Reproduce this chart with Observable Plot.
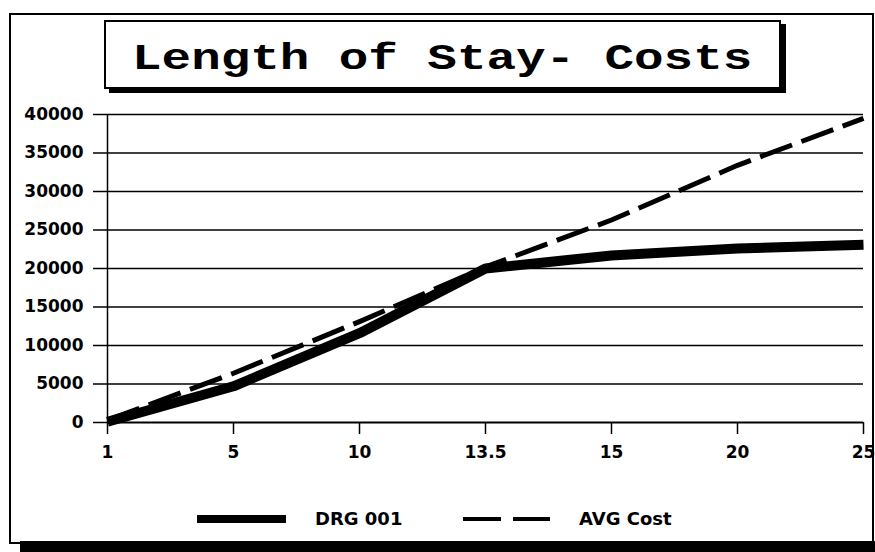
<!DOCTYPE html>
<html>
<head>
<meta charset="utf-8">
<script src="https://cdn.jsdelivr.net/npm/d3@7"></script>
<script src="https://cdn.jsdelivr.net/npm/@observablehq/plot@0.6"></script>
<style>
  html, body { margin: 0; padding: 0; background: #fff; }
  #wrap { position: relative; width: 875px; height: 552px; overflow: hidden; background: #fff; }
  #frame { position: absolute; left: 9px; top: 13px; width: 861px; height: 527px; border: 2px solid #000; }
  #shadow { position: absolute; left: 20px; top: 541px; width: 855px; height: 11px; background: #000; }
  #titlebox { position: absolute; left: 104px; top: 20px; width: 673px; height: 65px; border: 2px solid #000;
              box-shadow: 5px 4px 0 #000; background: #fff; display: flex; align-items: center; justify-content: center; }
  #title { font-family: "Liberation Mono", "DejaVu Sans Mono", monospace; font-weight: bold; font-size: 37px;
           transform: scaleX(1.33); white-space: pre; color: #000; margin-top: 9px; }
  #chart { position: absolute; left: 0; top: 0; }
  #legend { position: absolute; left: 0; top: 505px; width: 875px; height: 28px;
            font-family: "DejaVu Sans", sans-serif; font-weight: bold; font-size: 18px; color: #000; }
  .lg { position: absolute; top: 0; }
</style>
</head>
<body>
<div id="wrap">
  <div id="frame"></div>
  <div id="shadow"></div>
  <div id="chart"></div>
  <div id="titlebox"><span id="title">Length of Stay- Costs</span></div>
  <div id="legend"></div>
</div>
<script>
// Data
const lengthOfStay = ["1", "5", "10", "13.5", "15", "20", "25"];
const drg001 = [100, 4700, 11600, 20000, 21700, 22600, 23100];
const avgCost = [300, 6400, 13100, 20200, 26300, 33400, 39500];
const yTicks = [0, 5000, 10000, 15000, 20000, 25000, 30000, 35000, 40000];
const seriesNames = ["DRG 001", "AVG Cost"];

const rows = lengthOfStay.map((los, i) => ({los, drg: drg001[i], avg: avgCost[i]}));

const chart = Plot.plot({
  width: 875,
  height: 480,
  marginLeft: 107,
  marginRight: 12,
  marginTop: 114,
  marginBottom: 58,
  style: {background: "transparent", fontFamily: "DejaVu Sans, sans-serif", fontSize: "17px", fontWeight: "bold", color: "#000"},
  x: {type: "point", domain: lengthOfStay, padding: 0, label: null},
  y: {domain: [0, 40000], label: null},
  marks: [
    Plot.ruleY(yTicks.filter(d => d > 0), {stroke: "#000", strokeWidth: 1.3}),
    Plot.ruleY([0], {stroke: "#000", strokeWidth: 2}),
    Plot.ruleX([lengthOfStay[0]], {y1: 0, y2: 40000, stroke: "#000", strokeWidth: 1.5}),
    Plot.axisY({ticks: yTicks, tickSize: 14, tickPadding: 10, tickFormat: d3.format("d"), strokeWidth: 1.5, strokeOpacity: 1, label: null}),
    Plot.axisX({tickSize: 12, tickPadding: 11, strokeWidth: 1.5, strokeOpacity: 1, label: null}),
    Plot.line(rows, {x: "los", y: "drg", stroke: "#000", strokeWidth: 10, strokeLinejoin: "miter", strokeLinecap: "butt"}),
    Plot.line(rows, {x: "los", y: "avg", stroke: "#000", strokeWidth: 5, strokeDasharray: "34 10", strokeLinecap: "butt"})
  ]
});
document.getElementById("chart").appendChild(chart);

// Legend
const legend = document.getElementById("legend");
legend.innerHTML = `
  <svg class="lg" style="left:197px" width="90" height="28"><line x1="0" x2="89" y1="14" y2="14" stroke="#000" stroke-width="8"/></svg>
  <span class="lg" style="left:315px;line-height:28px">${seriesNames[0]}</span>
  <svg class="lg" style="left:463px" width="90" height="28"><line x1="0" x2="87" y1="14" y2="14" stroke="#000" stroke-width="4" stroke-dasharray="38 12"/></svg>
  <span class="lg" style="left:579px;line-height:28px">${seriesNames[1]}</span>
`;
</script>
</body>
</html>
